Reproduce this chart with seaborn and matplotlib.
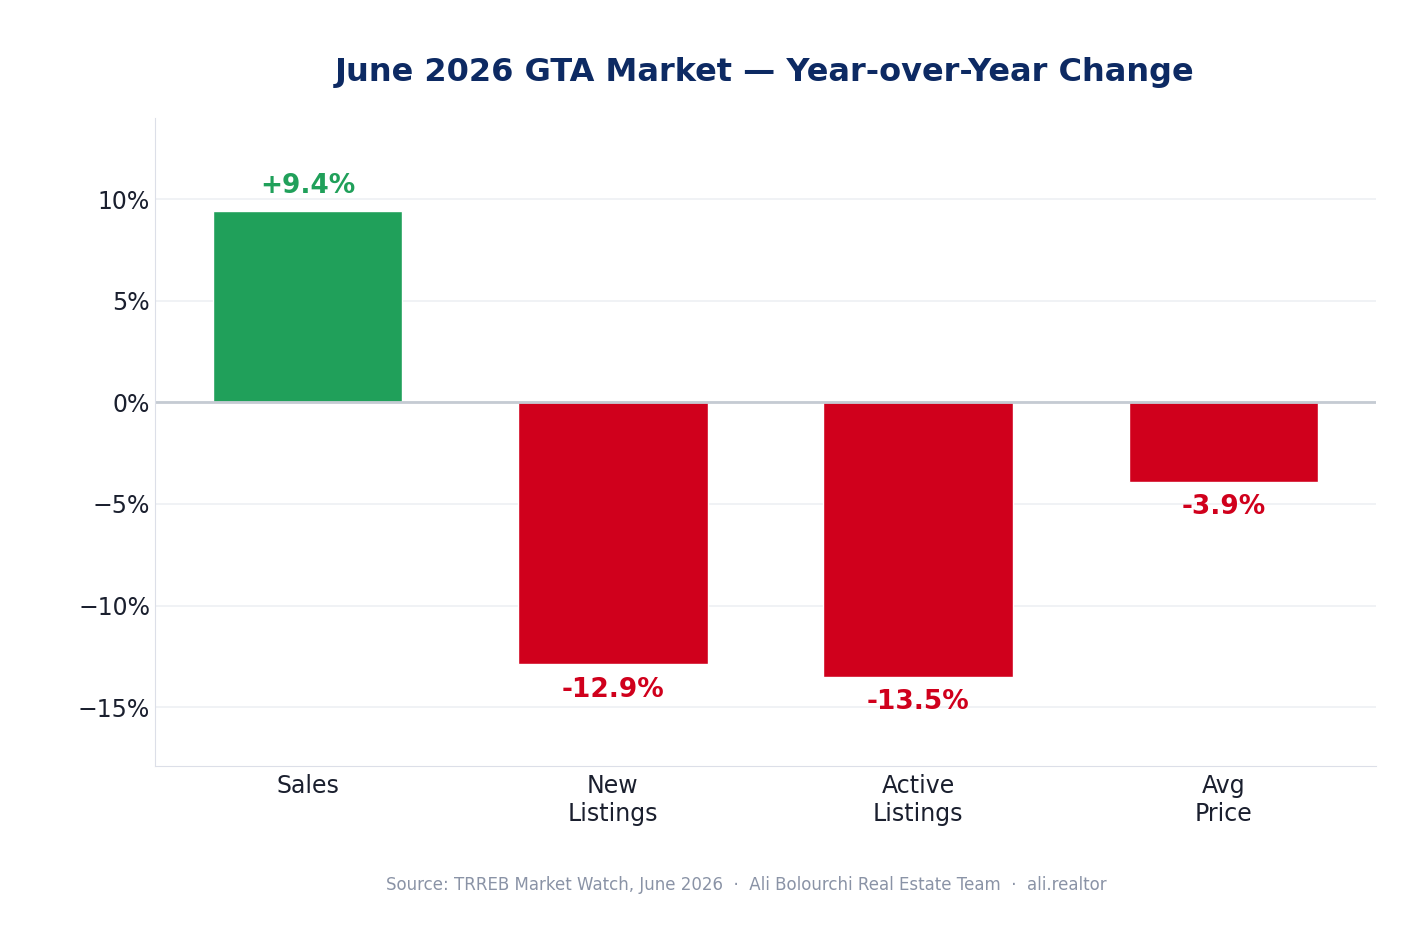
import matplotlib
matplotlib.use("Agg")
import matplotlib.pyplot as plt
import seaborn as sns
import pandas as pd

categories = ["Sales", "New\nListings", "Active\nListings", "Avg\nPrice"]
changes = [9.4, -12.9, -13.5, -3.9]
labels = ["+9.4%", "-12.9%", "-13.5%", "-3.9%"]

green = "#20a05a"
red = "#d0001c"
colors = [green if v > 0 else red for v in changes]

sns.set_style("white")
plt.rcParams['font.family'] = ['DejaVu Sans']

df = pd.DataFrame({"cat": categories, "chg": changes})
fig = plt.figure(figsize=(14.28, 9.49), dpi=100)
ax = fig.add_axes([155/1428, 1 - 766/949, (1376-155)/1428, (766-118)/949])

sns.barplot(data=df, x="cat", y="chg", hue="cat", palette=colors, legend=False,
            width=0.62, ax=ax, saturation=1)

ax.set_ylim(-17.9, 14)
ax.set_yticks([-15, -10, -5, 0, 5, 10])
ax.set_yticklabels(["\u221215%", "\u221210%", "\u22125%", "0%", "5%", "10%"])
ax.yaxis.grid(True, color="#eef0f3", linewidth=1.2)
ax.set_axisbelow(True)
ax.axhline(0, color="#c5cbd3", linewidth=2)
ax.tick_params(axis="both", labelsize=17, colors="#1a1f2e", length=0)
ax.tick_params(axis="x", pad=6)
ax.set_xlabel("")
ax.set_ylabel("")
for s in ["top", "right"]:
    ax.spines[s].set_visible(False)
for s in ["left", "bottom"]:
    ax.spines[s].set_color("#dcdfe8")

for i, (v, lab, c) in enumerate(zip(changes, labels, colors)):
    if v > 0:
        ax.text(i, v + 0.6, lab, ha="center", va="bottom", fontsize=19, fontweight="bold", color=c)
    else:
        ax.text(i, v - 0.6, lab, ha="center", va="top", fontsize=19, fontweight="bold", color=c)

fig.text(765/1428, 1 - 73/949, "June 2026 GTA Market \u2014 Year-over-Year Change",
         ha="center", va="center", fontsize=23, fontweight="bold", color="#0d2a63")
fig.text(746/1428, 1 - 885/949,
         "Source: TRREB Market Watch, June 2026  \u00b7  Ali Bolourchi Real Estate Team  \u00b7  ali.realtor",
         ha="center", va="center", fontsize=12, color="#8a93a6")

fig.savefig("out.png", dpi=100)
